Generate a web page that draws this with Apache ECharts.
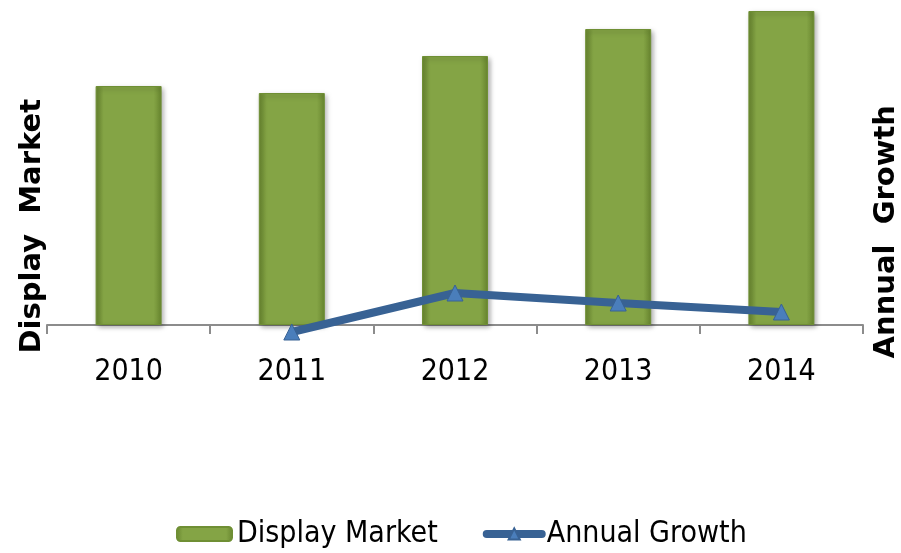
<!DOCTYPE html>
<html>
<head>
<meta charset="utf-8">
<script src="https://cdn.jsdelivr.net/npm/echarts@6/dist/echarts.min.js"></script>
<style>
html, body { margin: 0; padding: 0; background: #fff; }
#container { width: 901px; height: 553px; }
</style>
</head>
<body>
<div id="container"></div>
<script>
// chart data
const years = ['2010', '2011', '2012', '2013', '2014'];
const displayMarket = [95.6, 92.8, 107.6, 118.4, 125.6];
const annualGrowth = [null, -3.5, 16, 11, 6.5];

const labelFont = '"DejaVu Sans Condensed", "DejaVu Sans", sans-serif';

const barColor = new echarts.graphic.LinearGradient(0, 0, 1, 0, [
    { offset: 0, color: '#68862f' },
    { offset: 0.12, color: '#84a445' },
    { offset: 0.88, color: '#84a445' },
    { offset: 1, color: '#68862f' }
]);

let mychart = echarts.init(document.getElementById('container'));

let options = {
    animation: false,
    grid: {
        left: 47,
        right: 38,
        top: 0,
        bottom: 228
    },
    legend: {
        left: 176,
        top: 519,
        padding: 0,
        itemWidth: 55,
        itemHeight: 14,
        itemGap: 45,
        textStyle: {
            fontFamily: labelFont,
            fontSize: 30,
            color: '#000'
        },
        data: [
            { name: 'Display Market' },
            { name: 'Annual Growth', lineStyle: { width: 8, cap: 'round' } }
        ]
    },
    graphic: {
        elements: [
            {
                type: 'text',
                left: 18,
                top: 99,
                rotation: Math.PI / 2,
                style: {
                    text: 'Display  Market',
                    font: 'bold 29px "DejaVu Sans"',
                    fill: '#000'
                }
            },
            {
                type: 'text',
                right: 0,
                top: 105,
                rotation: Math.PI / 2,
                style: {
                    text: 'Annual  Growth',
                    font: 'bold 29px "DejaVu Sans"',
                    fill: '#000'
                }
            }
        ]
    },
    xAxis: {
        type: 'category',
        data: years,
        axisLine: {
            lineStyle: { color: '#8c8c8c', width: 2 }
        },
        axisTick: {
            show: true,
            alignWithLabel: false,
            length: 9,
            lineStyle: { color: '#8c8c8c', width: 2 }
        },
        axisLabel: {
            margin: 32,
            fontFamily: labelFont,
            fontSize: 30,
            color: '#000'
        }
    },
    yAxis: [
        {
            type: 'value',
            min: 0,
            max: 130,
            show: false,
            splitLine: { show: false }
        },
        {
            type: 'value',
            min: 0,
            max: 162.5,
            show: false,
            splitLine: { show: false }
        }
    ],
    series: [
        {
            name: 'Display Market',
            type: 'bar',
            data: displayMarket,
            barWidth: 66,
            itemStyle: {
                color: barColor,
                borderColor: '#6f8f34',
                borderWidth: 1,
                shadowBlur: 5,
                shadowOffsetX: 2,
                shadowOffsetY: 2,
                shadowColor: 'rgba(0,0,0,0.35)'
            }
        },
        {
            name: 'Annual Growth',
            type: 'line',
            yAxisIndex: 1,
            data: annualGrowth,
            clip: false,
            symbol: 'triangle',
            symbolSize: 16,
            lineStyle: { color: '#386294', width: 8 },
            itemStyle: { color: '#4a7ebb', borderColor: '#386294', borderWidth: 1 }
        }
    ]
};

mychart.setOption(options);
window.addEventListener('resize', () => { mychart.resize() });
</script>
</body>
</html>
